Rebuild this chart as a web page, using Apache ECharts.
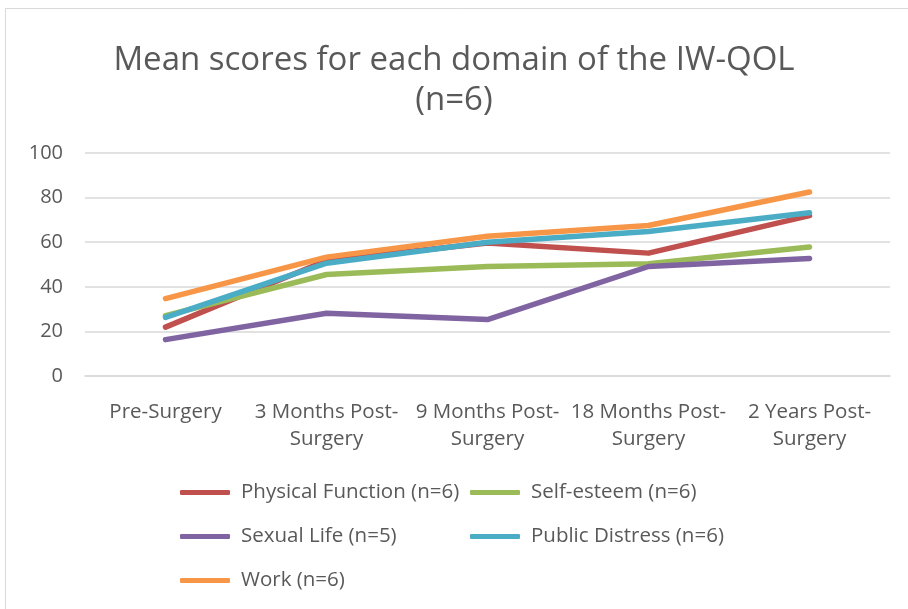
<!DOCTYPE html>
<html><head><meta charset="utf-8">
<script src="https://cdn.jsdelivr.net/npm/echarts@6/dist/echarts.min.js"></script>
<style>html,body{margin:0;padding:0;background:#fff}#c{width:908px;height:609px}</style>
</head><body><div id="c"></div>
<script>
const categories = ['Pre-Surgery', '3 Months Post-\nSurgery', '9 Months Post-\nSurgery', '18 Months Post-\nSurgery', '2 Years Post-\nSurgery'];
const physicalFunction = [21.9, 51.8, 59.6, 55.1, 71.9];
const selfEsteem = [27.1, 45.5, 49.1, 50.3, 57.8];
const sexualLife = [16.3, 28.1, 25.3, 49.1, 52.7];
const publicDistress = [26.3, 50.6, 60.0, 64.8, 73.2];
const work = [34.7, 53.3, 62.7, 67.5, 82.5];
const yTicks = [0, 20, 40, 60, 80, 100];

const names = ['Physical Function (n=6)', 'Self-esteem (n=6)', 'Sexual Life (n=5)', 'Public Distress (n=6)', 'Work (n=6)'];
const colors = ['#C0504D', '#9BBB59', '#8064A2', '#4BACC6', '#F79646'];
const values = [physicalFunction, selfEsteem, sexualLife, publicDistress, work];
const legendPos = [[175, 477], [465, 477], [175, 521], [465, 521], [175, 565]];
const font = '"Open Sans", sans-serif';

const chart = echarts.init(document.getElementById('c'));
chart.setOption({
  animation: false,
  graphic: [{type: 'rect', shape: {x: 5.5, y: 8.5, width: 920, height: 620}, style: {fill: 'none', stroke: '#d9d9d9', lineWidth: 1}}],
  title: {
    text: 'Mean scores for each domain of the IW-QOL\n(n=6)',
    left: 'center', top: 36,
    textStyle: {fontFamily: font, fontSize: 33, fontWeight: 'normal', color: '#595959', lineHeight: 40}
  },
  legend: names.map((n, i) => ({
    data: [n], left: legendPos[i][0], top: legendPos[i][1],
    icon: 'roundRect', itemWidth: 50, itemHeight: 5, itemGap: 0,
    textStyle: {fontFamily: font, fontSize: 20.5, color: '#595959', padding: [0, 0, 0, 6]}
  })),
  grid: {left: 85, right: 18, top: 153, bottom: 233, containLabel: false},
  xAxis: {
    type: 'category', data: categories, boundaryGap: true,
    axisLine: {show: true, lineStyle: {color: '#d9d9d9', width: 1.5}},
    axisTick: {show: false},
    axisLabel: {fontFamily: font, fontSize: 20.5, color: '#595959', margin: 23, lineHeight: 27, interval: 0}
  },
  yAxis: {
    type: 'value', min: 0, max: 100, interval: 20,
    axisLine: {show: false}, axisTick: {show: false},
    splitLine: {lineStyle: {color: '#d9d9d9', width: 1.5}},
    axisLabel: {fontFamily: font, fontSize: 20, color: '#595959', margin: 22,
      formatter: v => yTicks.includes(v) ? String(v) : ''}
  },
  series: values.map((d, i) => ({
    name: names[i], type: 'line', data: d, showSymbol: false, symbol: 'none',
    lineStyle: {color: colors[i], width: 5.5, cap: 'round', join: 'round'},
    itemStyle: {color: colors[i]}
  }))
});
</script></body></html>
